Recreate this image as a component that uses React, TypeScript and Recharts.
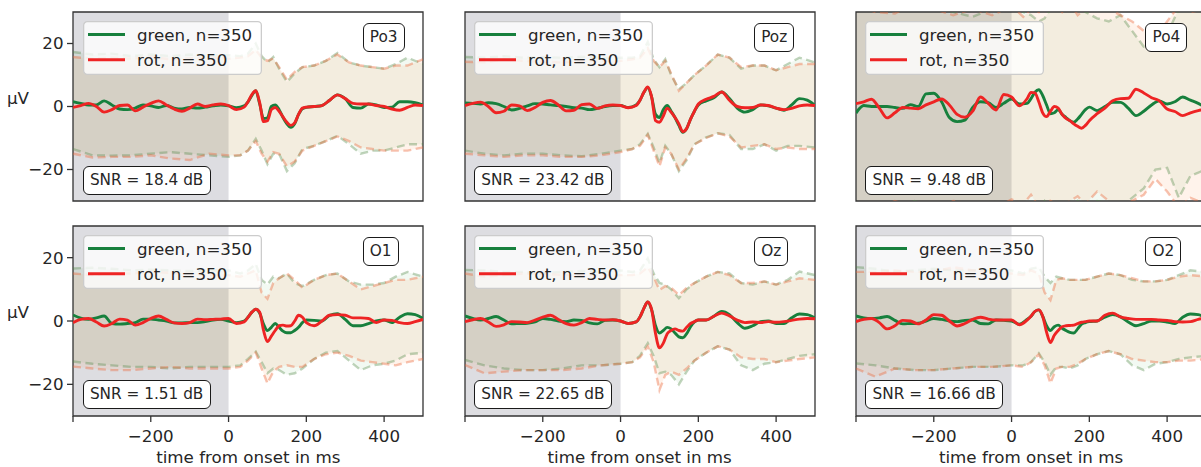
import React from 'react';
import { ComposedChart, Line, Area, XAxis, YAxis, ReferenceArea, Legend } from 'recharts';

const FONT = '"DejaVu Sans", Verdana, sans-serif';
const TEXT = '#262626';

// time grid of the mean curves (ms)
const timeMs = [-400,-380,-360,-340,-320,-300,-280,-260,-240,-220,-200,-180,-160,-140,-120,-100,-80,-60,-40,-20,0,20,40,
  50,60,70,80,90,100,110,120,130,140,150,160,170,180,190,200,
  220,240,260,280,300,320,340,360,380,400,420,440,460,480,500];
// time grid of the confidence bands (ms)
const bandMs = [-400,-350,-300,-250,-200,-150,-100,-50,0,30,50,70,85,100,115,130,150,170,190,220,250,280,310,340,370,400,430,460,500];

const xTicks = [-400, -200, 0, 200, 400];
const yTicks = [-20, 0, 20];
const seriesNames = ['green, n=350', 'rot, n=350'];
const channelNames = ['Po3', 'Poz', 'Po4', 'O1', 'Oz', 'O2'];
const snrLabels = ['SNR = 18.4 dB', 'SNR = 23.42 dB', 'SNR = 9.48 dB', 'SNR = 1.51 dB', 'SNR = 22.65 dB', 'SNR = 16.66 dB'];
const xLabel = 'time from onset in ms';
const yLabel = 'µV';

// ---- Po3 ----
const po3Green = [1.5,1.0,0.5,0.5,1.8,0.5,-0.8,-1.0,-0.5,0.5,0.2,-0.3,0.3,-0.5,-0.8,-0.3,-0.5,-0.2,0.2,0.5,0.2,-0.4,0.2,
  1.5,3.5,5.0,0.8,-3.8,-3.6,0,0.5,-1.0,-3.5,-5.5,-6.6,-5.5,-2.5,-0.7,-0.3,
  0,0.3,2.0,3.7,2.5,-0.3,-0.5,0.8,0.5,-0.3,-0.2,1.5,1.5,1.2,0.5];
const po3Red = [-0.3,0.3,1.0,0,-1.8,-1.0,0.3,0.5,-1.4,-0.2,1.0,1.8,0.5,-0.8,-1.5,-0.5,0.8,0,0.5,0.8,0.3,-1.0,-0.2,
  1.5,3.8,5.0,1.2,-4.8,-4.5,-1.0,-0.3,-1.5,-3.3,-5.0,-6.0,-5.2,-2.5,-0.5,-0.2,
  0,0.3,2.0,3.7,2.5,1.0,0.8,0.8,0.3,0,-0.8,-1.2,-0.3,0.5,0.3];
const po3GreenHi = [17.3,16.5,16.8,16,16.5,16,16.5,16.2,16.3,16,16.8,20,16,14,15.7,12,7.8,10.5,12.5,13,14.5,17,14,13,12.5,12,13.5,15.5,13.5];
const po3RedHi = [15.7,15.2,15.5,15.2,15.8,15,15.3,15.5,15.2,15.5,16,18,15.5,14.5,15.2,12.5,8.5,11,12.5,13,14.5,16.5,14,13,12.5,12,13,13,15];
const po3GreenLo = [-13.5,-15.5,-15.6,-15.5,-15,-14.5,-15,-15.5,-16,-15.5,-14,-10.3,-14,-18.3,-15,-15,-20.5,-18,-13.5,-12.5,-11,-9.3,-12,-15,-14,-14,-13,-12,-12];
const po3RedLo = [-15,-16.2,-16,-16,-15.5,-16.5,-17,-15,-15.5,-15.5,-14,-11,-15,-17.5,-14.5,-15,-19,-17.5,-14,-12.5,-11,-9.5,-11,-13,-13.5,-14,-14,-14,-13];

// ---- Poz ----
const pozGreen = [1.1,1.0,0.8,1.2,0.9,0,-1.1,-0.6,0.2,0.9,0.8,0.5,0.3,0,-0.4,-0.5,-1.0,-0.6,0,0.3,0.3,-0.3,0.5,
  2.0,4.5,6.0,3.0,-2.5,-3.5,-1.0,0.3,-1.5,-3.5,-6.0,-8.2,-7.0,-4.0,-1.5,0.5,
  1.8,2.8,4.6,2.5,-0.5,-1.8,-1.0,0.5,0.2,-0.5,-1.2,0.5,2.5,2.0,0.3];
const pozRed = [0.3,1.0,1.4,0,-2.0,-1.5,0.5,0.2,-1.3,-0.3,1.3,1.9,0.5,-1.4,-1.2,0.6,0.8,-0.6,0.2,0.5,0.3,-0.4,0.3,
  2.0,4.5,6.2,3.0,-4.5,-5.0,-3.0,-0.5,-1.8,-3.5,-5.5,-8.0,-7.0,-4.0,-1.5,0.8,
  2.3,3.2,4.6,2.0,0,-0.4,-0.3,0.5,0.3,-0.5,-1.0,-0.6,0.2,0.5,0.3];
const pozGreenHi = [15.7,15.5,16,15.5,15.7,15.5,15.8,15.5,15.5,15.5,16,20.5,15,12.5,15,10,5.5,7.5,10,13,16.5,15.5,12,13,13,11.5,13.5,15.5,14];
const pozRedHi = [14.2,14,15,14.5,14.2,14,14.5,14.5,14.5,15,15.5,18.5,14.5,12.5,14.5,10.5,5,7.5,10,13,16.5,15.5,12.5,13,13,11.5,12.5,13.5,13.5];
const pozGreenLo = [-14,-15,-15.5,-15,-15,-15.5,-15.8,-15,-14,-13.5,-12,-8.7,-13,-18,-12.5,-15,-20.5,-17,-12,-9.8,-8.5,-9,-13.5,-13.5,-12,-14,-12.5,-12.5,-13];
const pozRedLo = [-15,-15.5,-16,-15.5,-15.5,-16,-16,-15.5,-14.5,-13.5,-12.5,-9,-14,-19,-13,-15,-20,-16.5,-12,-10,-8.5,-9.5,-13,-12.5,-12,-13.5,-13,-13.5,-13.5];

// ---- Po4 ----
const po4Green = [-2.1,0.3,0,0,0,-0.3,-0.6,0.6,0,4.0,4.2,1.5,-3.5,-4.8,-4.3,-0.3,1.5,1.2,-0.3,1.0,2.4,0.8,1.0,
  2.5,4.5,5.3,3.5,0.5,-2.3,-2.0,-1.0,-2.5,-3.5,-4.5,-5.0,-4.0,-2.5,-1.0,-0.2,
  -1.3,0,1.3,1.3,-0.5,-2.9,-1.5,0.5,1.8,0.8,1.5,3.0,2.0,1.0,-0.5];
const po4Red = [0.9,1.5,2.3,-0.5,-3.6,-2.0,-0.3,-0.5,-0.7,0.5,1.5,2.4,0.5,-2.5,-3.4,-1.5,3.0,1.0,-1.1,3.8,3.0,0.2,2.5,
  4.5,4.3,1.5,-2.0,-3.2,-1.5,0,-0.5,-2.5,-3.8,-4.5,-5.5,-6.3,-6.9,-6.0,-4.5,
  -2.3,-0.5,1.8,2.5,2.6,5.5,4.3,2.8,1.8,-0.8,-1.6,-2.9,-2.0,-1.3,-0.8];
const po4GreenHi = [31,33,30.5,34,32,30,28.5,31,33,30,29,27,28,31,34,32,30,32,30,28,27,29,24,19,18,23,31,34,33];
const po4RedHi = [32,30,29.5,33,31,29,31,29,32,28.5,31,30,33,35,32,30,33,29,31,33,31,29,27,24,22,27,32,30,31];
const po4GreenLo = [-33,-31,-34,-30,-32,-31,-33,-30,-32,-34,-31,-33,-30,-32,-34,-31,-33,-30,-32,-30,-31,-32,-29,-26,-20,-19.5,-29,-22,-20];
const po4RedLo = [-31,-33,-30,-32,-34,-30,-31,-33,-29.5,-31,-28,-32,-34,-30,-31,-33,-30,-28.5,-31,-27,-30,-33,-30,-28,-23,-27,-32,-29,-31];

// ---- O1 ----
const o1Green = [1.9,0.9,0.5,1.0,1.6,-0.8,-1.0,-0.8,-0.5,0.6,0.6,0.3,0,-0.6,-0.6,-0.5,-0.5,-0.2,0.3,0.5,0,-0.5,0,
  1.2,2.8,3.7,2.5,-1.0,-3.0,-2.0,-0.8,-2.0,-3.2,-3.7,-3.7,-3.0,-2.0,-0.5,0.3,
  0.2,0,1.8,2.3,0.5,-1.5,-1.5,-0.8,0,0.3,-0.5,1.2,2.3,2.0,0.8];
const o1Red = [-0.5,0.5,0.8,-0.3,-1.6,-0.8,0.6,0.3,-1.3,-0.5,0.8,1.6,0.5,-0.6,-0.8,-0.5,0.6,0.4,0.5,0.6,0.8,-0.8,-0.3,
  1.2,2.8,3.7,2.8,-3.0,-6.5,-4.8,-3.0,-1.5,-1.3,-1.6,-1.5,0,1.8,1.2,-0.5,
  -1.5,0,1.8,2.0,1.8,1.0,1.0,0.8,-0.5,0.3,0.2,-0.5,-0.8,-0.2,0.5];
const o1GreenHi = [16.6,16.8,16.5,16,16.2,16,15.8,16,16,15,16,18,13,11.5,14,13.5,15,12,11,13,14.5,15,12.5,11.5,11.5,12,14,15.5,14];
const o1RedHi = [15,14.5,15.2,15,15.5,15.2,15,14.5,14.5,14,15,16,9,7,12,13.5,15,13,10.5,13,14.5,15,12.5,10,11,12,13,13,14];
const o1GreenLo = [-12.8,-13.5,-14,-14.5,-14.5,-15,-14.5,-14.5,-14.5,-14,-12,-9.7,-13,-16.5,-15,-15.5,-17,-16.5,-15,-12,-10,-9.5,-12.5,-15.5,-14,-13.5,-12.5,-10.5,-10];
const o1RedLo = [-14.4,-15,-15.5,-15.5,-15,-14.5,-15,-15,-15,-14.5,-12.5,-10,-15,-19.7,-16,-14.5,-14,-14.5,-14.5,-12,-10.5,-10,-11,-12.5,-13,-13.5,-14,-13,-12];

// ---- Oz ----
const ozGreen = [1.6,0.8,0.3,0.8,1.4,0.3,-0.9,-0.8,-0.7,-0.3,0.8,0.5,0,-0.2,0.3,0.2,-0.6,-0.9,0.2,0.3,0,-0.8,-0.3,
  1.3,4.0,6.0,3.5,-1.5,-3.8,-3.0,-2.0,-2.5,-3.8,-5.0,-5.3,-4.0,-1.8,-0.3,0.3,
  0.3,1.5,3.0,2.0,-0.5,-2.3,-1.5,-0.2,0,-0.8,-0.8,1.0,2.2,2.0,1.0];
const ozRed = [-0.2,0.4,0.8,-0.3,-1.7,-1.2,-0.2,-0.3,-0.5,0.3,1.2,1.8,0.5,-0.8,-1.3,-0.5,0.8,0.5,0.3,0.4,0,-0.8,-0.3,
  1.3,4.0,6.0,3.5,-4.0,-8.5,-7.0,-4.0,-3.0,-2.5,-3.0,-3.2,-2.0,-0.8,-0.2,0.3,
  0.3,1.5,2.5,1.6,0.3,-0.5,-0.3,-0.5,-0.2,-0.4,-0.2,0.2,0.6,0.8,0.7];
const ozGreenHi = [16.1,16,15.5,15.5,15.2,15.5,15.8,15.5,16,15.5,16,19.8,15,12,11.5,10,7.2,10,12,14,15.5,15,12,11.5,12.5,11.5,13,15.6,14.5];
const ozRedHi = [15,14,14.5,15,15,14.5,14.5,14.5,14.5,14.5,15,17,14,9.8,11,10.5,8.2,10.5,12,14,15.5,14.5,12,12,12.5,11.5,12.5,13.5,13];
const ozGreenLo = [-12.3,-14,-15,-15.5,-15.5,-15,-14,-14,-13.5,-13,-11,-7,-11,-16.5,-16,-17,-20,-16,-12.5,-10,-8,-9,-14,-15.5,-13.5,-13,-12,-11,-10.5];
const ozRedLo = [-13.9,-16.5,-16,-15.5,-15.5,-15.5,-15,-14,-13.5,-13,-11.5,-8,-13,-21.8,-17,-16,-17,-15,-12.5,-10,-8,-9,-11.5,-12,-12,-13,-12.5,-12,-11.5];

// ---- O2 ----
const o2Green = [1.6,1.0,0.8,1.0,1.4,0.2,-0.9,-0.8,-0.7,0,0.8,0.5,0,-0.2,0.2,0.3,-0.8,-0.9,0.3,0.2,0,-1.0,0.5,
  1.5,3.0,3.5,1.5,-1.5,-3.0,-1.8,-1.3,-2.3,-3.0,-3.6,-3.8,-2.5,-1.0,-0.5,-0.2,
  0,1.2,2.0,1.3,-0.3,-1.5,-0.8,0,0,-0.3,-0.8,1.2,2.2,2.0,1.0];
const o2Red = [-0.2,0.5,0.8,-0.5,-2.5,-1.5,0.2,0,-0.9,0.3,2.0,1.8,0,-1.6,-0.8,0.5,1.2,0.6,0.3,0.3,0.3,-1.2,0.3,
  1.5,3.0,3.5,1.5,-3.5,-6.8,-4.5,-3.0,-1.8,-1.5,-1.4,-1.3,-0.8,-0.4,-0.2,0,
  0,1.8,2.5,1.3,0.8,0.5,0.5,0.5,0.3,0.2,-0.2,-0.3,-0.2,0.5,1.0];
const o2GreenHi = [17,16.5,15.5,16,16.5,16,16,16,16,15,16.5,17,14,12,14,13.5,13,13,13,14,15,14.5,13,12.5,12.5,13,14.5,16,15.5];
const o2RedHi = [15.5,15.5,16,15.5,15.5,17,16,15.5,15,14.5,16,15,9,6.6,13,13.5,13,13,13,14,15,14.5,13.5,12.5,12.5,13,14,14.5,14];
const o2GreenLo = [-13.4,-14,-15,-15.5,-15.5,-15,-14.5,-14.5,-14,-14,-13,-10.2,-13,-17,-14.5,-14.5,-15,-14,-12,-10.5,-9.5,-10.5,-14,-15.5,-13.5,-13,-12,-11.5,-11];
const o2RedLo = [-15,-17.6,-15,-15.5,-15.5,-15,-14.5,-14.5,-14,-14.5,-13,-10.5,-14,-19.7,-15,-14.5,-14.5,-13.5,-12,-10.5,-9.5,-10.5,-12,-12.5,-13,-13,-12.5,-12.5,-12];

const panels = [
  { g: po3Green, r: po3Red, gHi: po3GreenHi, gLo: po3GreenLo, rHi: po3RedHi, rLo: po3RedLo },
  { g: pozGreen, r: pozRed, gHi: pozGreenHi, gLo: pozGreenLo, rHi: pozRedHi, rLo: pozRedLo },
  { g: po4Green, r: po4Red, gHi: po4GreenHi, gLo: po4GreenLo, rHi: po4RedHi, rLo: po4RedLo },
  { g: o1Green, r: o1Red, gHi: o1GreenHi, gLo: o1GreenLo, rHi: o1RedHi, rLo: o1RedLo },
  { g: ozGreen, r: ozRed, gHi: ozGreenHi, gLo: ozGreenLo, rHi: ozRedHi, rLo: ozRedLo },
  { g: o2Green, r: o2Red, gHi: o2GreenHi, gLo: o2GreenLo, rHi: o2RedHi, rLo: o2RedLo },
];

const GREEN = '#17803d';
const RED = '#ee2424';
const PLOT_W = 350;
const COL_LEFT = [73.3, 464.7, 856];
const ROW_TOP = [12, 225.8];
const ROW_H = [189, 190];
const AXIS_W = 74;
const TOP_PAD = 10;
const RIGHT_PAD = 10;
const AXIS_H = 60;
const TICK_FONT = 16.7;
const MEAN_W = 2.9;

const fmt = (v: number) => (v < 0 ? '\u2212' + Math.abs(v) : String(v));

const renderLegend = (props: any) => {
  const items = (props.payload || []).filter((e: any) => e.type !== 'none');
  return (
    <div style={{ width: 179, height: 54, position: 'relative' }}>
      <svg width={179} height={54} style={{ position: 'absolute', left: 0, top: 0 }}>
        <rect x={0.65} y={0.65} width={177.7} height={52.7} rx={3.5} fill="#ffffff" fillOpacity={0.8} stroke="#cccccc" strokeWidth={1.3} />
        {items.map((e: any, i: number) => (
          <g key={i}>
            <line x1={5} x2={42} y1={13.5 + i * 25.3} y2={13.5 + i * 25.3} stroke={e.color} strokeWidth={MEAN_W} />
            <text x={54} y={13.5 + i * 25.3} dominantBaseline="central" fontFamily={FONT} fontSize={TICK_FONT} fill={TEXT}>{e.value}</text>
          </g>
        ))}
      </svg>
    </div>
  );
};

const boxStyle: React.CSSProperties = {
  position: 'absolute',
  background: '#ffffff',
  border: '1.3px solid #1a1a1a',
  borderRadius: 6,
  padding: '5px 6.2px',
  fontFamily: FONT,
  fontSize: 15.3,
  lineHeight: '17px',
  color: TEXT,
  whiteSpace: 'nowrap',
};

function Panel({ idx }: { idx: number }) {
  const p = panels[idx];
  const row = Math.floor(idx / 3);
  const col = idx % 3;
  const plotLeft = COL_LEFT[col];
  const plotTop = ROW_TOP[row];
  const plotH = ROW_H[row];
  const chartW = AXIS_W + PLOT_W + RIGHT_PAD;
  const chartH = TOP_PAD + plotH + AXIS_H;
  const meanRows = timeMs.map((t, i) => ({ t, g: p.g[i], r: p.r[i] }));
  const bandRows = bandMs.map((t, i) => ({ t, gHi: p.gHi[i], gLo: p.gLo[i], rHi: p.rHi[i], rLo: p.rLo[i] }));
  const tickStyle = { fill: TEXT, fontSize: TICK_FONT, fontFamily: FONT };
  const dashG = { stroke: 'rgb(80,135,70)', strokeOpacity: 0.36, strokeWidth: 2.4, strokeDasharray: '8 4.5' };
  const dashR = { stroke: 'rgb(236,105,60)', strokeOpacity: 0.4, strokeWidth: 2.4, strokeDasharray: '8 4.5' };
  return (
    <div style={{ position: 'absolute', left: plotLeft - AXIS_W, top: plotTop - TOP_PAD, width: chartW, height: chartH }}>
      <ComposedChart width={chartW} height={chartH} margin={{ top: TOP_PAD, right: RIGHT_PAD, left: 0, bottom: 0 }}>
        <XAxis
          dataKey="t"
          type="number"
          domain={[-400, 500]}
          ticks={xTicks}
          interval={0}
          allowDataOverflow
          axisLine={false}
          tickLine={{ stroke: '#333333', strokeWidth: 1.3 }}
          tickSize={6}
          tickMargin={8.6}
          height={AXIS_H}
          tick={row === 1 ? tickStyle : false}
          tickFormatter={(v: number) => (v === -400 ? '' : fmt(v))}
        />
        <YAxis
          type="number"
          domain={[-30, 30]}
          ticks={yTicks}
          interval={0}
          allowDataOverflow
          width={AXIS_W}
          axisLine={false}
          tickLine={{ stroke: '#333333', strokeWidth: 1.3 }}
          tickSize={6}
          tickMargin={3.5}
          tick={col === 0 ? tickStyle : false}
          tickFormatter={fmt}
        />
        <ReferenceArea x1={-400} x2={0} y1={-30} y2={30} fill="rgb(142,142,154)" fillOpacity={0.3} stroke="none" />
        <Area data={bandRows} dataKey={(d: any) => [d.gLo, d.gHi]} type="linear" stroke="none" fill="rgb(0,128,0)" fillOpacity={0.05} isAnimationActive={false} legendType="none" />
        <Area data={bandRows} dataKey={(d: any) => [d.rLo, d.rHi]} type="linear" stroke="none" fill="rgb(255,140,60)" fillOpacity={0.1} isAnimationActive={false} legendType="none" />
        <Line data={bandRows} dataKey="gHi" type="linear" {...dashG} dot={false} isAnimationActive={false} legendType="none" />
        <Line data={bandRows} dataKey="gLo" type="linear" {...dashG} dot={false} isAnimationActive={false} legendType="none" />
        <Line data={bandRows} dataKey="rHi" type="linear" {...dashR} dot={false} isAnimationActive={false} legendType="none" />
        <Line data={bandRows} dataKey="rLo" type="linear" {...dashR} dot={false} isAnimationActive={false} legendType="none" />
        <Line data={meanRows} dataKey="g" name={seriesNames[0]} type="monotone" stroke={GREEN} strokeWidth={MEAN_W} dot={false} isAnimationActive={false} />
        <Line data={meanRows} dataKey="r" name={seriesNames[1]} type="monotone" stroke={RED} strokeWidth={MEAN_W} dot={false} isAnimationActive={false} />
        <ReferenceArea x1={-400} x2={500} y1={-30} y2={30} fill="none" fillOpacity={0} stroke="#333333" strokeWidth={1.3} />
        <Legend
          content={renderLegend}
          layout="horizontal"
          verticalAlign="middle"
          align="center"
          wrapperStyle={{ position: 'absolute', left: AXIS_W + 9.4, top: TOP_PAD + 8.9, width: 179, height: 54 }}
        />
      </ComposedChart>
      <div style={{ ...boxStyle, left: AXIS_W + 289.3, top: TOP_PAD + 11.4 }}>{channelNames[idx]}</div>
      <div style={{ ...boxStyle, left: AXIS_W + 9.4, top: TOP_PAD + 154 }}>{snrLabels[idx]}</div>
    </div>
  );
}

const labelStyle: React.CSSProperties = {
  position: 'absolute',
  fontFamily: FONT,
  fontSize: TICK_FONT,
  lineHeight: '16.7px',
  color: TEXT,
  whiteSpace: 'nowrap',
};

export default function App() {
  return (
    <div style={{ position: 'absolute', left: 0, top: 0, width: 1201, height: 467, overflow: 'hidden', background: '#ffffff' }}>
      {panels.map((_, i) => (
        <Panel key={i} idx={i} />
      ))}
      {ROW_TOP.map((top, r) => (
        <div key={'yl' + r} style={{ ...labelStyle, left: 7, top: top + ROW_H[r] / 2 - 2.5 - 14.1 }}>{yLabel}</div>
      ))}
      {COL_LEFT.map((left, c) => (
        <div key={'xl' + c} style={{ ...labelStyle, left, width: PLOT_W, textAlign: 'center', top: 462.8 - 14.1 }}>{xLabel}</div>
      ))}
    </div>
  );
}
